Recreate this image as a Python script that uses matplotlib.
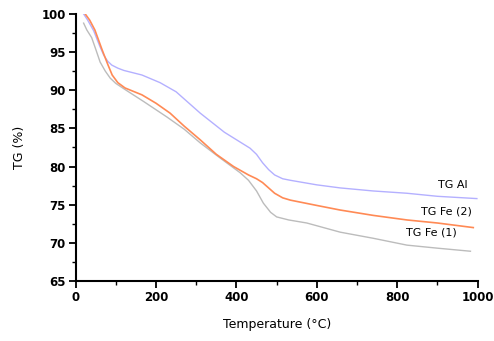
import matplotlib
matplotlib.use("Agg")
import matplotlib.pyplot as plt
from matplotlib.ticker import MultipleLocator

plt.rcParams.update({'font.family': 'DejaVu Sans', 'font.size': 8})

# thermogravimetric curves, mass (%) vs temperature (degC)
t_al = [20, 30, 45, 60, 70, 80, 90, 105, 120, 165, 210, 250, 310, 370, 434,
        450, 465, 480, 495, 515, 534, 600, 658, 740, 824, 900, 998]
tg_al = [100, 99.2, 97.8, 95.8, 94.6, 93.8, 93.3, 92.9, 92.6, 92.0, 91.0, 89.8, 87.0, 84.5, 82.4,
         81.6, 80.5, 79.6, 78.9, 78.4, 78.2, 77.6, 77.2, 76.8, 76.5, 76.1, 75.8]

t_fe2 = [24, 35, 48, 66, 80, 91, 105, 123, 165, 200, 235, 270, 310, 350, 393,
         430, 450, 465, 480, 495, 515, 534, 600, 658, 740, 824, 900, 989]
tg_fe2 = [100, 99.2, 97.9, 95.3, 93.4, 92.0, 91.0, 90.3, 89.4, 88.3, 87.0, 85.3, 83.5, 81.6, 80.0,
          78.9, 78.4, 77.9, 77.2, 76.5, 75.9, 75.6, 74.9, 74.3, 73.6, 73.0, 72.6, 72.0]

t_fe1 = [20, 28, 40, 50, 61, 74, 86, 100, 120, 170, 227, 270, 310, 360, 409,
         430, 450, 467, 485, 500, 530, 575, 658, 740, 824, 900, 982]
tg_fe1 = [98.8, 97.9, 96.9, 95.4, 93.7, 92.5, 91.6, 90.9, 90.2, 88.5, 86.5, 84.9, 83.1, 81.1, 79.2,
          78.2, 76.8, 75.2, 74.0, 73.4, 73.0, 72.6, 71.4, 70.6, 69.7, 69.3, 68.9]

labels = ['TG Al', 'TG Fe (2)', 'TG Fe (1)']
label_pos = [(974, 77.6), (986, 74.05), (949, 71.4)]

fig = plt.figure(figsize=(4.94, 3.41), dpi=100)
ax = fig.add_axes([0.153, 0.176, 0.814, 0.783])

ax.plot(t_al, tg_al, color='#b4b0ff', lw=1.0)
ax.plot(t_fe1, tg_fe1, color='#bcbcbc', lw=1.0)
ax.plot(t_fe2, tg_fe2, color='#ff8a55', lw=1.2)

for lab, (x, y) in zip(labels, label_pos):
    ax.text(x, y, lab, ha='right', va='center', fontsize=8)

ax.set_xlim(0, 1000)
ax.set_ylim(65, 100)
ax.xaxis.set_major_locator(MultipleLocator(200))
ax.xaxis.set_minor_locator(MultipleLocator(100))
ax.yaxis.set_major_locator(MultipleLocator(5))
ax.yaxis.set_minor_locator(MultipleLocator(2.5))

for side in ['top', 'right']:
    ax.spines[side].set_visible(False)
for side in ['left', 'bottom']:
    ax.spines[side].set_linewidth(1.5)
ax.tick_params(which='major', length=5, width=1.3, direction='out', pad=2,
               labelsize=8.5)
ax.tick_params(which='minor', length=3, width=1.0, direction='out')
for lbl in ax.get_xticklabels() + ax.get_yticklabels():
    lbl.set_fontweight('bold')

ax.set_xlabel('Temperature (\u00b0C)', fontsize=9, labelpad=10)
ax.set_ylabel('TG (%)', fontsize=9, labelpad=11)

fig.savefig('out.png', dpi=100)
